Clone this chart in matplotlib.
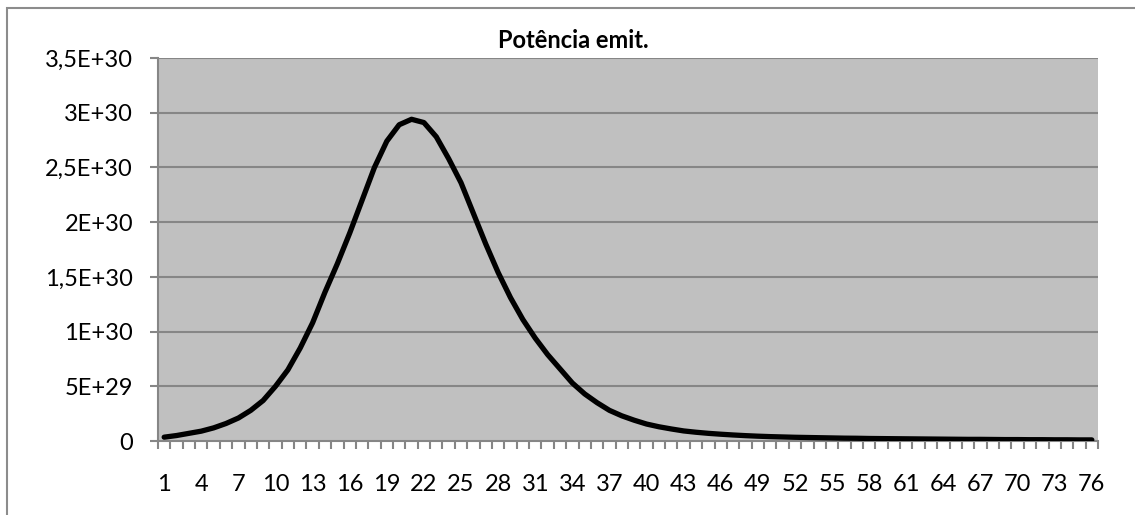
import numpy as np
import matplotlib.pyplot as plt
from matplotlib.patches import Rectangle
from matplotlib.ticker import FixedLocator

# categorias 1..76 e potência emitida (em unidades de 1E+30)
categorias = list(range(1, 77))
potencia = [
    0.035, 0.05, 0.07, 0.09, 0.12, 0.16, 0.21, 0.28, 0.37, 0.50,
    0.65, 0.85, 1.08, 1.36, 1.62, 1.90, 2.20, 2.50, 2.74, 2.89,
    2.94, 2.91, 2.78, 2.58, 2.36, 2.08, 1.80, 1.54, 1.31, 1.11,
    0.94, 0.79, 0.66, 0.53, 0.43, 0.35, 0.28, 0.23, 0.19, 0.155,
    0.13, 0.11, 0.092, 0.08, 0.07, 0.062, 0.055, 0.049, 0.044, 0.040,
    0.037, 0.034, 0.032, 0.030, 0.028, 0.026, 0.025, 0.023, 0.022, 0.021,
    0.020, 0.019, 0.018, 0.017, 0.016, 0.015, 0.015, 0.014, 0.013, 0.013,
    0.012, 0.012, 0.011, 0.011, 0.010, 0.010,
]
rotulos_y = ["0", "5E+29", "1E+30", "1,5E+30", "2E+30", "2,5E+30", "3E+30", "3,5E+30"]
titulo = "Potência emit."

y = np.array(potencia) * 1e30

W, H = 1135, 515
fig = plt.figure(figsize=(W / 100, H / 100), dpi=100)
fig.patch.set_facecolor("white")

# moldura do gráfico
fig.patches.append(Rectangle((7 / W, -0.1), 1.2, 1.1 - 8 / H, transform=fig.transFigure,
                             fill=False, edgecolor="#8c8c8c", lw=1.5))

ax = fig.add_axes([158 / W, (H - 441) / H, 940 / W, 383 / H])
ax.set_facecolor("#c0c0c0")

ax.plot(categorias, y, color="black", lw=3.8, solid_capstyle="round", solid_joinstyle="round", zorder=3)

ax.set_xlim(0.5, 76.5)
ax.set_ylim(0, 3.5e30)

cinza = "#868686"
ticks_y = np.arange(0, 3.51e30, 5e29)
ax.set_yticks(ticks_y)
ax.set_yticklabels(rotulos_y)
for v in ticks_y[1:]:
    ax.axhline(v, color=cinza, lw=1.5, zorder=1)

ax.set_xticks(categorias[::3])
ax.set_xticklabels([str(c) for c in categorias[::3]])
ax.xaxis.set_minor_locator(FixedLocator(np.arange(0.5, 77, 1)))

for lado in ["top", "right"]:
    ax.spines[lado].set_visible(False)
for lado in ["left", "bottom"]:
    ax.spines[lado].set_color(cinza)
    ax.spines[lado].set_linewidth(1.5)

fonte = ["Lato", "DejaVu Sans"]
ax.tick_params(axis="y", length=6, width=1.5, color=cinza, pad=12, labelsize=17)
ax.tick_params(axis="x", which="major", length=0, pad=24, labelsize=17)
ax.tick_params(axis="x", which="minor", length=6, width=1.5, color=cinza)
for lbl in ax.get_xticklabels() + ax.get_yticklabels():
    lbl.set_family(fonte)

fig.text(573 / W, 1 - 40 / H, titulo, ha="center", va="center", fontsize=17,
         fontweight="bold", family=fonte)

fig.savefig("out.png", dpi=100)
